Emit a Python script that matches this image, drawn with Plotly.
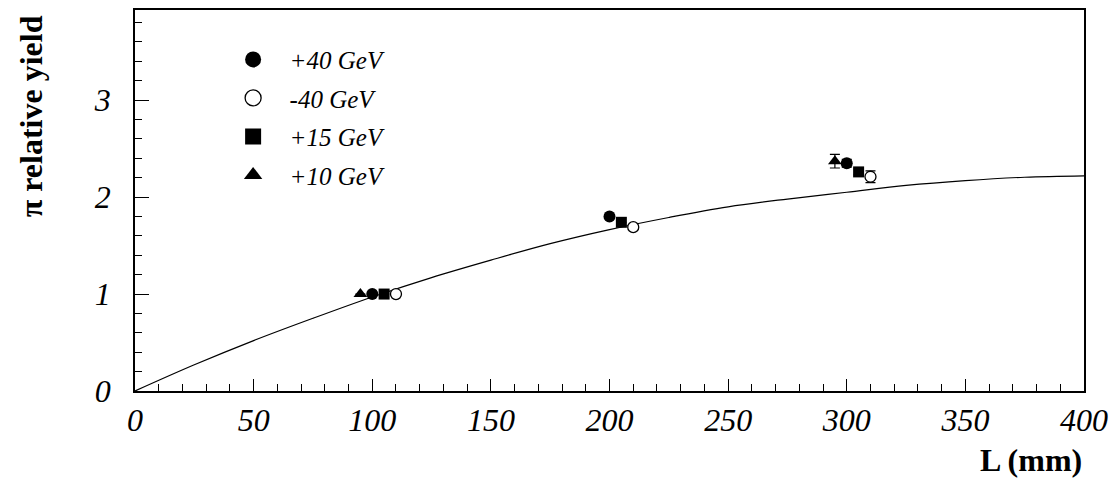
import plotly.graph_objects as go

# Data
L_p40 = [100, 200, 300]
Y_p40 = [1.00, 1.80, 2.35]
E_p40 = [0.0, 0.0, 0.04]

L_m40 = [110, 210, 310]
Y_m40 = [1.00, 1.69, 2.21]
E_m40 = [0.0, 0.0, 0.06]

L_p15 = [105, 205, 305]
Y_p15 = [1.00, 1.74, 2.26]
E_p15 = [0.0, 0.0, 0.03]

L_p10 = [95, 295]
Y_p10 = [1.00, 2.37]
E_p10 = [0.0, 0.07]

# Fitted curve
L_curve = [0, 25, 50, 75, 100, 125, 150, 175, 200, 225, 250, 275, 300, 325, 350, 375, 400]
Y_curve = [0.0, 0.27, 0.52, 0.75, 0.97, 1.17, 1.35, 1.52, 1.665, 1.79, 1.90, 1.98, 2.05, 2.12, 2.17, 2.205, 2.22]

x_ticks = [0, 50, 100, 150, 200, 250, 300, 350, 400]
y_ticks = [0, 1, 2, 3]

series_names = ["+40 GeV", "-40 GeV", "+15 GeV", "+10 GeV"]

serif = "Liberation Serif"

fig = go.Figure()
fig.add_trace(go.Scatter(x=L_curve, y=Y_curve, mode="lines", line=dict(color="black", width=1.2, shape="spline"),
                         showlegend=False, hoverinfo="skip"))

def err(e):
    return dict(type="data", array=e, visible=True, color="black", thickness=1.2, width=5)

styles = [
    dict(symbol="circle", size=12, color="black"),
    dict(symbol="circle", size=11, color="white", line=dict(color="black", width=1.3)),
    dict(symbol="square", size=11, color="black"),
    dict(symbol="triangle-up", size=12, color="black"),
]
data = [(L_p40, Y_p40, E_p40), (L_m40, Y_m40, E_m40), (L_p15, Y_p15, E_p15), (L_p10, Y_p10, E_p10)]

for name, st, (xs, ys, es) in zip(series_names, styles, data):
    fig.add_trace(go.Scatter(x=xs, y=ys, mode="markers", name=name, showlegend=False,
                             marker=st, error_y=err(es)))

# legend entries (larger symbols, as in the original key)
for i, (name, st) in enumerate(zip(series_names, styles)):
    big = dict(st)
    big["size"] = 16
    fig.add_trace(go.Scatter(x=[None], y=[None], mode="markers", name=name, legendgroup=str(i),
                             marker=big, showlegend=True))

fig.update_layout(
    width=1114, height=479,
    margin=dict(l=135, r=30, t=10, b=88),
    paper_bgcolor="white", plot_bgcolor="white",
    showlegend=True,
    legend=dict(x=0.086, y=0.93, xanchor="left", yanchor="top", bgcolor="rgba(0,0,0,0)",
                traceorder="grouped", tracegroupgap=3, itemwidth=63,
                font=dict(family=serif, size=25, color="black", style="italic")),
    xaxis=dict(range=[0, 400], tickvals=x_ticks, ticktext=[str(v) for v in x_ticks],
               ticks="inside", ticklen=12, tickwidth=1.2, tickcolor="black",
               minor=dict(dtick=10, ticks="inside", ticklen=7, tickcolor="black", tickwidth=1),
               showline=True, linecolor="black", linewidth=1.5, mirror=True,
               showgrid=False, zeroline=False, automargin=False,
               tickfont=dict(family=serif, size=32, color="black", style="italic"),
               ticklabelstandoff=0),
    yaxis=dict(range=[0, 3.93], tickvals=y_ticks, ticktext=[str(v) for v in y_ticks],
               ticks="inside", ticklen=14, tickwidth=1.2, tickcolor="black",
               minor=dict(dtick=0.2, tick0=0, ticks="inside", ticklen=7, tickcolor="black", tickwidth=1),
               showline=True, linecolor="black", linewidth=1.5, mirror=True,
               showgrid=False, zeroline=False, automargin=False,
               tickfont=dict(family=serif, size=32, color="black", style="italic"),
               ticklabelstandoff=16),
    annotations=[
        dict(text="<b>π relative yield</b>", xref="paper", yref="paper", x=-0.110, y=0.72,
             xanchor="center", yanchor="middle",
             textangle=-90, showarrow=False, font=dict(family=serif, size=32, color="black")),
        dict(text="<b>L (mm)</b>", xref="paper", yref="paper", x=0.944, y=-0.18,
             xanchor="center", yanchor="middle",
             showarrow=False, font=dict(family=serif, size=32, color="black")),
    ],
)

fig.write_html("out.html")
